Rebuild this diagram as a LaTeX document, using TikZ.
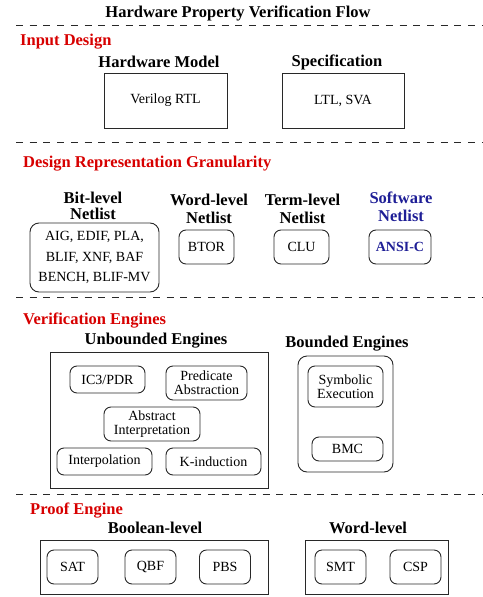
\documentclass[tikz,border=0pt]{standalone}
\usepackage{fontspec}
\setmainfont{Liberation Serif}
\definecolor{secred}{RGB}{215,0,0}
\definecolor{swblue}{RGB}{30,30,150}
\definecolor{edge}{RGB}{40,40,40}
\tikzset{
  x=1pt, y=-1pt,
  body/.style={font=\fontsize{14}{14}\selectfont},
  head/.style={font=\fontsize{16.5}{16.5}\selectfont\bfseries, align=center, inner sep=0pt},
  sect/.style={font=\fontsize{16.5}{16.5}\selectfont\bfseries, text=secred, anchor=west, inner sep=0pt},
  sqbox/.style={draw=edge, line width=0.9pt, rectangle, inner sep=0pt, align=center, body},
  rbox/.style={sqbox, rounded corners=7pt},
  sep/.style={draw=edge, line width=0.9pt, dash pattern=on 7pt off 6.7pt},
}
\begin{document}
\begin{tikzpicture}
\useasboundingbox (0,0) rectangle (482,597);
% title
\node[head] (title) at (238,13) {Hardware Property Verification Flow};
% separators
\coordinate (d1l) at (16,25);  \coordinate (d1r) at (482,25);
\coordinate (d2l) at (16,142); \coordinate (d2r) at (482,142);
\coordinate (d3l) at (16,297); \coordinate (d3r) at (482,297);
\coordinate (d4l) at (16,494); \coordinate (d4r) at (482,494);
\draw[sep] (d1l) -- (d1r);
\draw[sep] (d2l) -- (d2r);
\draw[sep] (d3l) -- (d3r);
\draw[sep] (d4l) -- (d4r);
% Input design
\node[sect] (s1) at (20,42) {Input Design};
\node[head] (hm) at (159,62) {Hardware Model};
\node[sqbox, minimum width=123pt, minimum height=55pt] (verilog) at (165.5,100.5) {Verilog RTL};
\node[head] (sp) at (337,62) {Specification};
\node[sqbox, minimum width=122pt, minimum height=55pt] (spec) at (343,100.5) {LTL, SVA};
% Design representation
\node[sect] (s2) at (23,164) {Design Representation Granularity};
\node[head, font=\fontsize{16.5}{16}\selectfont\bfseries] (bith) at (93,206) {Bit-level\\Netlist};
\node[rbox, rounded corners=9pt, minimum width=129pt, minimum height=69pt, font=\fontsize{14}{20.5}\selectfont] (bit) at (94.5,257.5) {AIG, EDIF, PLA,\\BLIF, XNF, BAF\\BENCH, BLIF-MV};
\node[head, font=\fontsize{16.5}{17.5}\selectfont\bfseries] (wordh) at (209,209) {Word-level\\Netlist};
\node[rbox, minimum width=55pt, minimum height=34pt] (btor) at (206.5,247) {BTOR};
\node[head, font=\fontsize{16.5}{17.5}\selectfont\bfseries] (termh) at (302.5,209) {Term-level\\Netlist};
\node[rbox, minimum width=55pt, minimum height=34pt] (clu) at (301.5,247) {CLU};
\node[head, text=swblue, font=\fontsize{16.5}{17.5}\selectfont\bfseries] (swh) at (401,207) {Software\\Netlist};
\node[rbox, minimum width=62pt, minimum height=34pt, text=swblue, font=\fontsize{14}{14}\selectfont\bfseries] (ansi) at (400,247) {ANSI-C};
% Verification engines
\node[sect] (s3) at (23,321) {Verification Engines};
\node[head] (ubh) at (156,341) {Unbounded Engines};
\node[sqbox, minimum width=218pt, minimum height=136pt] (ub) at (159,420) {};
\node[rbox, minimum width=75pt, minimum height=27pt] (ic3) at (107.5,379.5) {IC3/PDR};
\node[rbox, minimum width=81pt, minimum height=34pt] (pred) at (206.5,383) {Predicate\\Abstraction};
\node[rbox, minimum width=96pt, minimum height=34pt] (absint) at (152,424) {Abstract\\Interpretation};
\node[rbox, minimum width=95pt, minimum height=27pt] (interp) at (104.5,461.5) {Interpolation};
\node[rbox, minimum width=95pt, minimum height=27pt] (kind) at (213.5,461.5) {K-induction};
\node[head] (bdh) at (347,344) {Bounded Engines};
\node[rbox, rounded corners=9pt, minimum width=95pt, minimum height=116pt] (bd) at (345.5,414) {};
\node[rbox, minimum width=75pt, minimum height=41pt] (symb) at (345.5,386.5) {Symbolic\\Execution};
\node[rbox, minimum width=71pt, minimum height=24pt] (bmc) at (347.5,449) {BMC};
% Proof engine
\node[sect] (s4) at (30,511) {Proof Engine};
\node[head] (boolh) at (155,528) {Boolean-level};
\node[sqbox, minimum width=228pt, minimum height=54pt] (boolb) at (154,567) {};
\node[rbox, minimum width=51pt, minimum height=34pt] (sat) at (72.5,567) {SAT};
\node[rbox, minimum width=51pt, minimum height=34pt] (qbf) at (150.5,567) {QBF};
\node[rbox, minimum width=51pt, minimum height=34pt] (pbs) at (225,567) {PBS};
\node[head] (wlh) at (368,528) {Word-level};
\node[sqbox, minimum width=143pt, minimum height=54pt] (wordb) at (376.5,567) {};
\node[rbox, minimum width=51pt, minimum height=34pt] (smt) at (340.5,567) {SMT};
\node[rbox, minimum width=51pt, minimum height=34pt] (csp) at (415.5,567) {CSP};
\end{tikzpicture}
\end{document}
